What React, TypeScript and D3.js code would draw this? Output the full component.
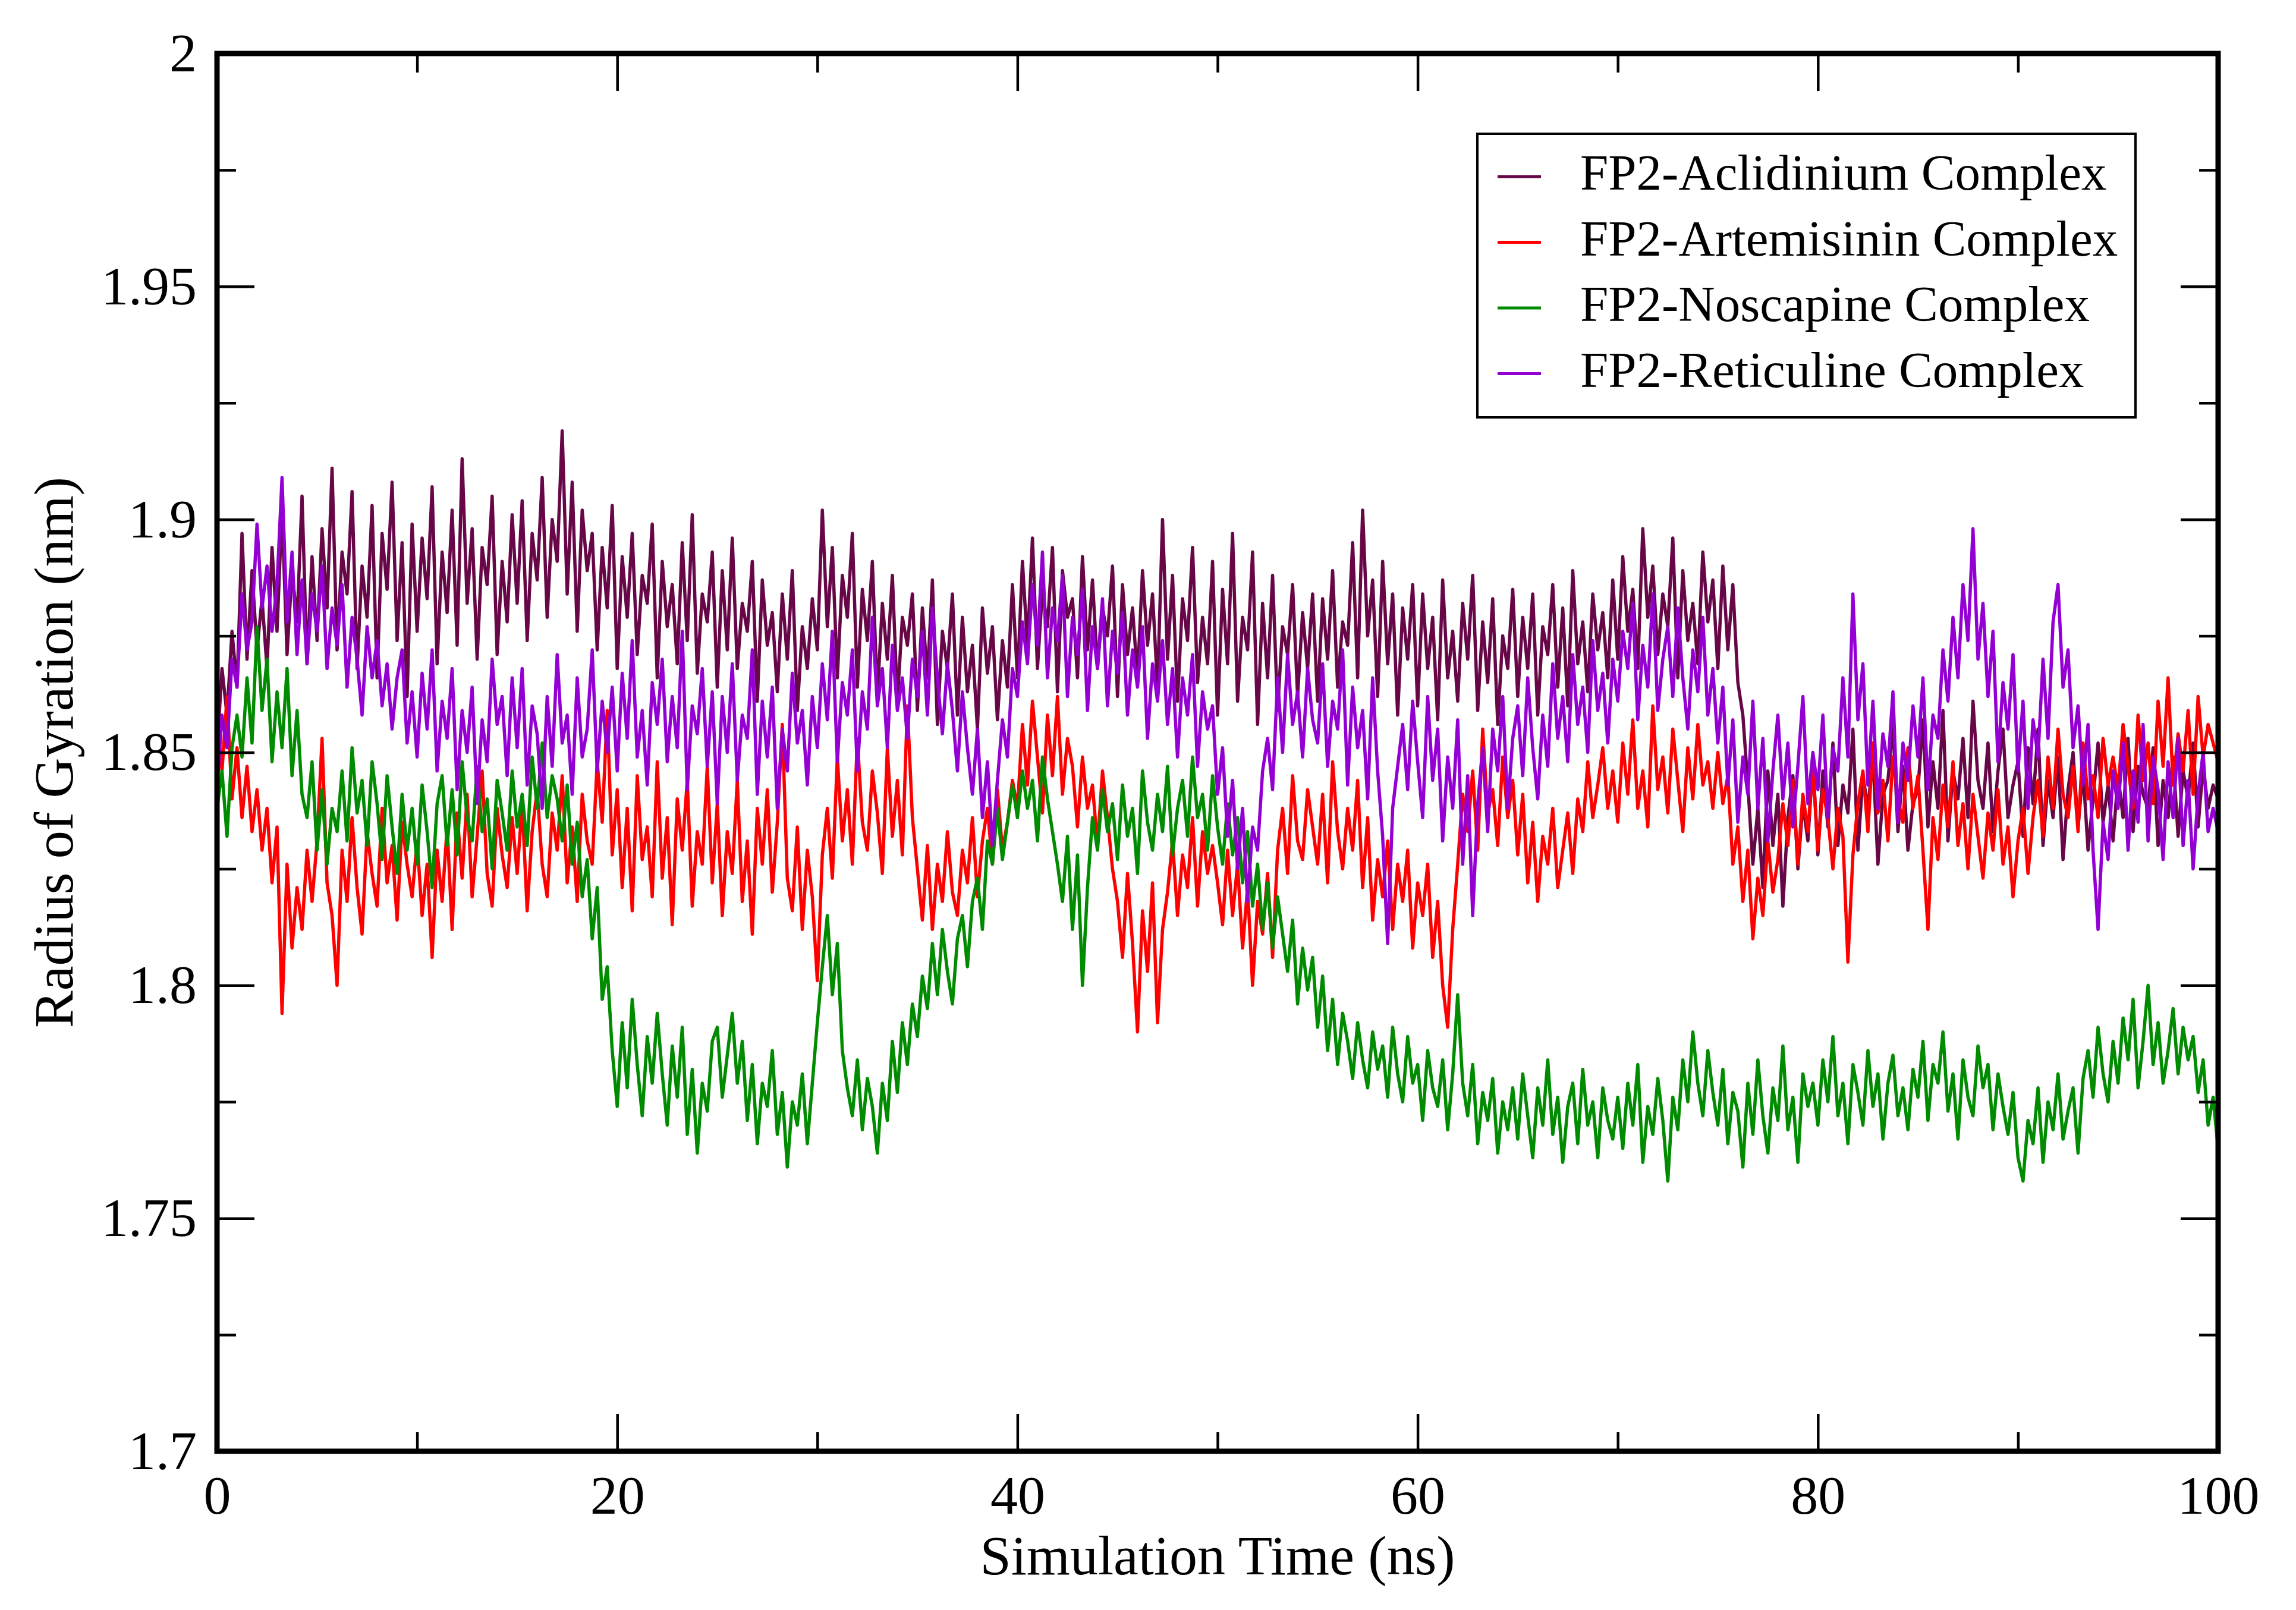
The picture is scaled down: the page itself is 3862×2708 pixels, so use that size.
import { useEffect, useRef } from 'react';
import * as d3 from 'd3';

// Radius of gyration in picometres (1842 = 1.842 nm), every 0.25 ns from 0 to 100 ns,
// read off the reference plot
const aclidinium = [
  1850, 1868, 1858, 1876, 1864, 1897, 1870, 1889, 1872, 1883, 1868, 1894, 1876, 1902, 1871, 1889, 1878, 1905, 1869, 1892,
  1874, 1898, 1881, 1911, 1872, 1893, 1884, 1906, 1868, 1890, 1879, 1903, 1866, 1897, 1885, 1908, 1874, 1895, 1862, 1899,
  1876, 1896, 1883, 1907, 1869, 1893, 1880, 1902, 1873, 1913, 1882, 1898, 1870, 1894, 1886, 1905, 1871, 1891, 1878, 1901,
  1882, 1904, 1874, 1897, 1887, 1909, 1879, 1900, 1891, 1919, 1884, 1908, 1876, 1902, 1889, 1897, 1872, 1894, 1881, 1903,
  1868, 1892, 1879, 1897, 1871, 1888, 1882, 1899, 1866, 1891, 1877, 1886, 1869, 1895, 1874, 1901, 1867, 1884, 1878, 1893,
  1864, 1889, 1872, 1896, 1868, 1882, 1876, 1891, 1861, 1887, 1873, 1880, 1863, 1884, 1870, 1889, 1859, 1877, 1868, 1883,
  1872, 1902, 1877, 1894, 1866, 1888, 1879, 1897, 1864, 1885, 1874, 1891, 1862, 1882, 1870, 1888, 1861, 1879, 1873, 1884,
  1859, 1881, 1866, 1887, 1856, 1876, 1868, 1884, 1858, 1879, 1863, 1873, 1855, 1881, 1867, 1877, 1857, 1874, 1864, 1886,
  1866, 1891, 1873, 1896, 1868, 1885, 1877, 1894, 1863, 1889, 1879, 1883, 1866, 1892, 1872, 1887, 1868, 1881, 1875, 1890,
  1862, 1886, 1871, 1881, 1866, 1889, 1873, 1884, 1864, 1900, 1870, 1888, 1861, 1883, 1874, 1894, 1865, 1879, 1869, 1891,
  1858, 1885, 1869, 1897, 1861, 1879, 1872, 1893, 1856, 1882, 1866, 1888, 1859, 1877, 1871, 1886, 1862, 1880, 1868, 1884,
  1861, 1883, 1870, 1889, 1864, 1878, 1873, 1895, 1866, 1902, 1875, 1887, 1862, 1891, 1869, 1884, 1858, 1881, 1870, 1886,
  1860, 1884, 1868, 1879, 1857, 1887, 1866, 1876, 1861, 1882, 1870, 1888, 1859, 1878, 1865, 1883, 1856, 1875, 1868, 1885,
  1862, 1879, 1868, 1884, 1858, 1877, 1871, 1886, 1864, 1881, 1860, 1889, 1869, 1878, 1863, 1884, 1872, 1880, 1866, 1887,
  1870, 1892, 1876, 1885, 1868, 1898, 1879, 1890, 1871, 1884, 1877, 1896, 1866, 1889, 1874, 1882, 1869, 1893, 1878, 1887,
  1868, 1890, 1872, 1886, 1865, 1858, 1843, 1826, 1838, 1821, 1846, 1830, 1841, 1817, 1836, 1845, 1825, 1839, 1831, 1848,
  1828, 1846, 1834, 1852, 1830, 1843, 1837, 1855, 1829, 1845, 1838, 1849, 1826, 1841, 1844, 1856, 1833, 1847, 1829, 1839,
  1842, 1857, 1834, 1848, 1838, 1859, 1831, 1846, 1840, 1853, 1836, 1861, 1844, 1838, 1852, 1833, 1846, 1855, 1836, 1843,
  1848, 1832, 1851, 1839, 1855, 1830, 1844, 1836, 1849, 1827, 1842, 1850, 1834, 1846, 1829, 1840, 1852, 1835, 1843, 1831,
  1845, 1836, 1853, 1833, 1847, 1841, 1838, 1851, 1830, 1844, 1836, 1849, 1832, 1846, 1840, 1852, 1834, 1847, 1838, 1843,
  1840
];

const artemisinin = [
  1858, 1846, 1862, 1840, 1851, 1836, 1847, 1833, 1842, 1829, 1838, 1822, 1834, 1794, 1826, 1808, 1821, 1812, 1829, 1818,
  1831, 1853, 1822, 1815, 1800, 1829, 1818, 1836, 1821, 1811, 1833, 1824, 1817, 1838, 1822, 1830, 1814, 1835, 1826, 1819,
  1831, 1815, 1826, 1806, 1829, 1818, 1834, 1812, 1837, 1823, 1841, 1819, 1832, 1846, 1824, 1817, 1838, 1828, 1821, 1836,
  1824, 1839, 1816, 1833, 1842, 1826, 1819, 1837, 1829, 1845, 1822, 1834, 1818, 1841, 1831, 1826, 1848, 1835, 1859, 1828,
  1842, 1821, 1838, 1816, 1845, 1827, 1834, 1819, 1848, 1823, 1836, 1813, 1840, 1829, 1844, 1817, 1833, 1826, 1847, 1822,
  1839, 1815, 1833, 1824, 1844, 1818, 1831, 1811, 1838, 1826, 1842, 1820, 1835, 1856, 1823, 1816, 1834, 1812, 1829, 1819,
  1801, 1828, 1838, 1823, 1849, 1831, 1842, 1826, 1853, 1835, 1829, 1846, 1837, 1824, 1851, 1832, 1844, 1828, 1860, 1836,
  1825, 1814, 1830, 1812, 1826, 1818, 1833, 1820, 1815, 1829, 1822, 1836, 1819, 1831, 1838, 1826, 1842, 1829, 1835, 1844,
  1838, 1856, 1843, 1861, 1849, 1837, 1858, 1845, 1862, 1841, 1853, 1847, 1834, 1849, 1838, 1843, 1830, 1846, 1836, 1825,
  1818, 1806, 1824, 1809, 1790, 1816, 1803, 1822, 1792, 1812, 1820, 1831, 1815, 1828, 1821, 1836, 1817, 1833, 1824, 1830,
  1822, 1813, 1829, 1815, 1826, 1808, 1821, 1800, 1818, 1811, 1824, 1806, 1829, 1838, 1824, 1845, 1831, 1827, 1842, 1834,
  1826, 1841, 1822, 1848, 1833, 1825, 1838, 1829, 1844, 1821, 1836, 1814, 1827, 1819, 1831, 1812, 1826, 1818, 1829, 1808,
  1822, 1815, 1826, 1806, 1818, 1800, 1791, 1812, 1826, 1841, 1833, 1846, 1829, 1855, 1837, 1842, 1830, 1849, 1836, 1844,
  1828, 1841, 1822, 1835, 1818, 1832, 1826, 1838, 1821, 1829, 1837, 1824, 1840, 1833, 1848, 1836, 1843, 1851, 1838, 1846,
  1835, 1852, 1841, 1857, 1838, 1846, 1834, 1860, 1842, 1849, 1837, 1855, 1844, 1833, 1851, 1840, 1856, 1843, 1848, 1838,
  1850, 1839, 1845, 1826, 1834, 1818, 1829, 1810, 1823, 1815, 1831, 1820, 1827, 1839, 1830, 1844, 1826, 1841, 1833, 1847,
  1829, 1842, 1836, 1825, 1838, 1832, 1805, 1828, 1839, 1846, 1833, 1852, 1837, 1844, 1831, 1849, 1840, 1835, 1851, 1838,
  1845, 1829, 1812, 1836, 1827, 1843, 1834, 1848, 1830, 1839, 1825, 1841, 1832, 1823, 1837, 1829, 1842, 1826, 1834, 1819,
  1831, 1838, 1824, 1836, 1844, 1832, 1849, 1838, 1855, 1841, 1836, 1847, 1833, 1852, 1840, 1845, 1836, 1853, 1843, 1849,
  1842, 1856, 1847, 1838, 1858, 1844, 1852, 1839, 1861, 1847, 1866, 1843, 1854, 1846, 1859, 1841, 1862, 1849, 1856, 1852,
  1848
];

const noscapine = [
  1838, 1846, 1832, 1851, 1858, 1849, 1866, 1852, 1877, 1859, 1870, 1848, 1863, 1851, 1868, 1845, 1859, 1841, 1836, 1848,
  1829, 1842, 1826, 1838, 1833, 1846, 1831, 1851, 1837, 1844, 1830, 1848, 1839, 1827, 1845, 1834, 1824, 1841, 1829, 1838,
  1826, 1843, 1833, 1821, 1839, 1845, 1830, 1842, 1828, 1848, 1836, 1831, 1847, 1833, 1840, 1825, 1844, 1837, 1829, 1846,
  1834, 1841, 1830, 1849, 1838, 1852, 1836, 1845, 1840, 1831, 1843, 1826, 1835, 1819, 1827, 1810, 1821, 1797, 1804, 1786,
  1774, 1792, 1778, 1797, 1783, 1772, 1789, 1779, 1794, 1781, 1770, 1787, 1776, 1791, 1768, 1782, 1764, 1779, 1773, 1788,
  1791, 1776, 1785, 1794, 1779, 1788, 1771, 1783, 1766, 1779, 1774, 1786, 1768, 1777, 1761, 1775, 1770, 1781, 1766, 1779,
  1792, 1804, 1815, 1798, 1809, 1786, 1778, 1772, 1784, 1769, 1780, 1774, 1764, 1779, 1771, 1788, 1777, 1792, 1783, 1796,
  1789, 1802, 1795, 1809, 1798, 1812, 1803, 1796, 1810, 1815, 1804, 1818, 1823, 1812, 1831, 1826, 1838, 1827, 1835, 1843,
  1836, 1846, 1838, 1844, 1831, 1849, 1840, 1833, 1826, 1818, 1832, 1812, 1828, 1800, 1821, 1836, 1829, 1842, 1833, 1839,
  1827, 1843, 1832, 1838, 1824, 1846, 1835, 1829, 1841, 1833, 1847, 1828, 1838, 1844, 1832, 1849, 1836, 1841, 1829, 1845,
  1834, 1826, 1839, 1828, 1836, 1822, 1833, 1817, 1826, 1812, 1822, 1808, 1819, 1811, 1803, 1814, 1796, 1808, 1799, 1806,
  1791, 1802, 1786, 1797, 1783, 1794, 1788, 1780, 1792, 1784, 1778, 1790, 1782, 1787, 1776, 1791, 1781, 1775, 1789, 1779,
  1783, 1771, 1786, 1778, 1774, 1784, 1769, 1781, 1798, 1779, 1772, 1783, 1766, 1777, 1771, 1780, 1764, 1775, 1769, 1778,
  1767, 1781, 1772, 1763, 1778, 1770, 1784, 1768, 1776, 1762, 1774, 1779, 1766, 1782, 1770, 1775, 1763, 1778, 1771, 1767,
  1776, 1765, 1779, 1770, 1783, 1762, 1774, 1768, 1780, 1771, 1758, 1776, 1769, 1784, 1775, 1790, 1779, 1772, 1786, 1777,
  1770, 1782, 1766, 1777, 1773, 1761, 1779, 1768, 1784, 1772, 1764, 1778, 1771, 1787, 1769, 1776, 1762, 1781, 1774, 1779,
  1770, 1784, 1775, 1789, 1772, 1779, 1766, 1783, 1777, 1770, 1786, 1774, 1781, 1767, 1779, 1785, 1772, 1778, 1769, 1782,
  1776, 1788, 1771, 1783, 1779, 1790, 1773, 1781, 1767, 1784, 1776, 1772, 1787, 1778, 1783, 1769, 1781, 1774, 1768, 1777,
  1763, 1758, 1771, 1766, 1778, 1762, 1775, 1769, 1781, 1767, 1773, 1778, 1764, 1780, 1786, 1776, 1791, 1781, 1775, 1788,
  1779, 1793, 1784, 1797, 1778, 1788, 1800, 1783, 1792, 1779, 1786, 1795, 1781, 1791, 1784, 1789, 1777, 1784, 1770, 1776,
  1765
];

const reticuline = [
  1842, 1858, 1851, 1870, 1864, 1884, 1872, 1878, 1899, 1881, 1890, 1876, 1886, 1909, 1878, 1893, 1871, 1887, 1869, 1884,
  1876, 1890, 1868, 1881, 1873, 1886, 1864, 1879, 1870, 1858, 1877, 1866, 1874, 1860, 1869, 1855, 1866, 1872, 1852, 1863,
  1849, 1867, 1855, 1872, 1846, 1861, 1853, 1868, 1842, 1859, 1850, 1864, 1839, 1857, 1848, 1870, 1856, 1862, 1845, 1866,
  1851, 1868, 1843, 1860, 1854, 1838, 1862, 1847, 1871, 1852, 1858, 1841, 1866, 1849, 1855, 1872, 1846, 1861, 1850, 1864,
  1846, 1867, 1853, 1874, 1849, 1859, 1843, 1865, 1856, 1870, 1848, 1862, 1851, 1876, 1842, 1860, 1854, 1868, 1847, 1863,
  1839, 1862, 1850, 1869, 1844, 1858, 1853, 1872, 1841, 1861, 1849, 1864, 1838, 1855, 1846, 1867, 1852, 1859, 1843, 1862,
  1851, 1869, 1857, 1876, 1848, 1865, 1858, 1872, 1846, 1863, 1855, 1879, 1860, 1868, 1851, 1873, 1859, 1866, 1853, 1870,
  1862, 1876, 1858, 1881, 1866, 1854, 1869, 1859, 1846, 1863, 1851, 1841, 1855, 1836, 1848, 1830, 1844, 1857, 1849, 1868,
  1862, 1878, 1869, 1886, 1873, 1893, 1866, 1881, 1874, 1888, 1862, 1879, 1871, 1885, 1859, 1877, 1868, 1883, 1860, 1876,
  1867, 1880, 1858, 1872, 1864, 1877, 1853, 1869, 1861, 1874, 1856, 1868, 1849, 1866, 1858, 1871, 1847, 1863, 1855, 1860,
  1841, 1851, 1832, 1844, 1825, 1838, 1818, 1834, 1829, 1846, 1853, 1842, 1866, 1850, 1871, 1856, 1863, 1849, 1868, 1857,
  1852, 1869, 1847, 1861, 1855, 1872, 1843, 1864, 1851, 1859, 1840, 1866, 1846, 1832, 1809, 1838, 1847, 1856, 1842, 1861,
  1848, 1836, 1862, 1844, 1855, 1831, 1849, 1838, 1857, 1826, 1845, 1815, 1839, 1851, 1833, 1855, 1846, 1862, 1838, 1853,
  1860, 1845, 1866, 1851, 1840, 1858, 1847, 1869, 1853, 1862, 1848, 1871, 1856, 1864, 1850, 1874, 1859, 1867, 1852, 1870,
  1861, 1876, 1868, 1882, 1857, 1873, 1864, 1884, 1859, 1870, 1877, 1862, 1881, 1866, 1855, 1872, 1863, 1879, 1858, 1868,
  1852, 1864, 1843, 1857, 1835, 1849, 1841, 1861, 1838, 1853, 1831, 1846, 1858, 1840, 1852, 1834, 1847, 1862, 1839, 1850,
  1842, 1858, 1836, 1851, 1846, 1866, 1849, 1884, 1857, 1869, 1843, 1861, 1838, 1854, 1847, 1863, 1835, 1852, 1844, 1860,
  1849, 1866, 1842, 1858, 1853, 1872, 1861, 1879, 1866, 1886, 1874, 1898, 1870, 1882, 1862, 1876, 1848, 1865, 1855, 1871,
  1846, 1861, 1838, 1857, 1849, 1870, 1853, 1878, 1886, 1864, 1872, 1851, 1860, 1843, 1856, 1829, 1812, 1835, 1827, 1846,
  1838, 1852, 1829, 1846, 1835, 1856, 1831, 1849, 1842, 1827, 1848, 1836, 1853, 1830, 1844, 1825, 1841, 1850, 1833, 1838,
  1833
];

const seriesNames = [
  'FP2-Aclidinium Complex',
  'FP2-Artemisinin Complex',
  'FP2-Noscapine Complex',
  'FP2-Reticuline Complex'
];
const seriesColors = ['#670748', '#ff0000', '#008b00', '#9400d3'];
const seriesValues = [aclidinium, artemisinin, noscapine, reticuline];

const SIM_END = 100; // ns
const xMajorTicks = [0, 20, 40, 60, 80, 100];
const xMinorTicks = [10, 30, 50, 70, 90];
const yMajorTicks = [1.7, 1.75, 1.8, 1.85, 1.9, 1.95, 2];
const yMinorTicks = [1.725, 1.775, 1.825, 1.875, 1.925, 1.975];

const WIDTH = 3862;
const HEIGHT = 2708;
const FONT = '"Liberation Serif", "Times New Roman", serif';

export default function App() {
  const svgRef = useRef<SVGSVGElement>(null);

  useEffect(() => {
    if (!svgRef.current) return;
    const svg = d3.select(svgRef.current);
    svg.selectAll('*').remove();

    const margin = { top: 90, right: 131, bottom: 267, left: 365 };
    const innerWidth = WIDTH - margin.left - margin.right;
    const innerHeight = HEIGHT - margin.top - margin.bottom;

    svg.append('rect')
      .attr('width', WIDTH)
      .attr('height', HEIGHT)
      .attr('fill', '#ffffff');

    const g = svg.append('g')
      .attr('transform', `translate(${margin.left},${margin.top})`);

    const xScale = d3.scaleLinear().domain([0, SIM_END]).range([0, innerWidth]);
    const yScale = d3.scaleLinear().domain([1.7, 2]).range([innerHeight, 0]);

    // Series lines (pm -> nm)
    const plot = g.append('g');
    seriesValues.forEach((values, i) => {
      const step = SIM_END / (values.length - 1);
      const line = d3.line<number>()
        .x((_, k) => xScale(k * step))
        .y(d => yScale(d / 1000));
      plot.append('path')
        .datum(values)
        .attr('d', line)
        .attr('fill', 'none')
        .attr('stroke', seriesColors[i])
        .attr('stroke-width', 5.5)
        .attr('stroke-linejoin', 'round');
    });

    const majorLen = 63;
    const minorLen = 32;
    const tickStroke = 4.5;

    const styleAxis = (sel: d3.Selection<SVGGElement, unknown, null, undefined>) => {
      sel.select('.domain').remove();
      sel.selectAll('.tick line')
        .attr('stroke', '#000')
        .attr('stroke-width', tickStroke);
      sel.selectAll('.tick text')
        .attr('font-family', FONT)
        .attr('font-size', 92)
        .attr('fill', '#000');
    };

    // Bottom axis (labelled)
    g.append('g')
      .attr('transform', `translate(0,${innerHeight})`)
      .call(d3.axisBottom(xScale).tickValues(xMajorTicks).tickSize(-majorLen).tickPadding(40).tickFormat(d3.format('d')))
      .call(styleAxis);
    g.append('g')
      .attr('transform', `translate(0,${innerHeight})`)
      .call(d3.axisBottom(xScale).tickValues(xMinorTicks).tickSize(-minorLen).tickFormat(() => ''))
      .call(styleAxis);
    // Top axis (ticks only)
    g.append('g')
      .call(d3.axisTop(xScale).tickValues(xMajorTicks).tickSize(-majorLen).tickFormat(() => ''))
      .call(styleAxis);
    g.append('g')
      .call(d3.axisTop(xScale).tickValues(xMinorTicks).tickSize(-minorLen).tickFormat(() => ''))
      .call(styleAxis);

    // Left axis (labelled)
    g.append('g')
      .call(d3.axisLeft(yScale).tickValues(yMajorTicks).tickSize(-majorLen).tickPadding(34).tickFormat(d3.format('~g')))
      .call(styleAxis);
    g.append('g')
      .call(d3.axisLeft(yScale).tickValues(yMinorTicks).tickSize(-minorLen).tickFormat(() => ''))
      .call(styleAxis);
    // Right axis (ticks only)
    g.append('g')
      .attr('transform', `translate(${innerWidth},0)`)
      .call(d3.axisRight(yScale).tickValues(yMajorTicks).tickSize(-majorLen).tickFormat(() => ''))
      .call(styleAxis);
    g.append('g')
      .attr('transform', `translate(${innerWidth},0)`)
      .call(d3.axisRight(yScale).tickValues(yMinorTicks).tickSize(-minorLen).tickFormat(() => ''))
      .call(styleAxis);

    // Frame
    g.append('rect')
      .attr('width', innerWidth)
      .attr('height', innerHeight)
      .attr('fill', 'none')
      .attr('stroke', '#000')
      .attr('stroke-width', 9);

    // Axis titles
    svg.append('text')
      .attr('x', margin.left + innerWidth / 2)
      .attr('y', 2648)
      .attr('text-anchor', 'middle')
      .attr('font-family', FONT)
      .attr('font-size', 94)
      .attr('fill', '#000')
      .text('Simulation Time (ns)');

    svg.append('text')
      .attr('transform', `translate(122,${margin.top + innerHeight / 2}) rotate(-90)`)
      .attr('text-anchor', 'middle')
      .attr('font-family', FONT)
      .attr('font-size', 94)
      .attr('fill', '#000')
      .text('Radius of Gyration (nm)');

    // Legend
    const legend = svg.append('g')
      .attr('transform', 'translate(2485,225)');
    legend.append('rect')
      .attr('width', 1107)
      .attr('height', 477)
      .attr('fill', '#fff')
      .attr('stroke', '#000')
      .attr('stroke-width', 4);

    seriesNames.forEach((name, i) => {
      const row = legend.append('g')
        .attr('transform', `translate(0,${94 + i * 110.5})`);
      row.append('line')
        .attr('x1', 34)
        .attr('x2', 107)
        .attr('y1', -22)
        .attr('y2', -22)
        .attr('stroke', seriesColors[i])
        .attr('stroke-width', 5);
      row.append('text')
        .attr('x', 173)
        .attr('y', 0)
        .attr('font-family', FONT)
        .attr('font-size', 85)
        .attr('fill', '#000')
        .text(name);
    });
  }, []);

  return (
    <svg
      ref={svgRef}
      width={WIDTH}
      height={HEIGHT}
      style={{ position: 'absolute', left: 0, top: 0, display: 'block' }}
    />
  );
}
